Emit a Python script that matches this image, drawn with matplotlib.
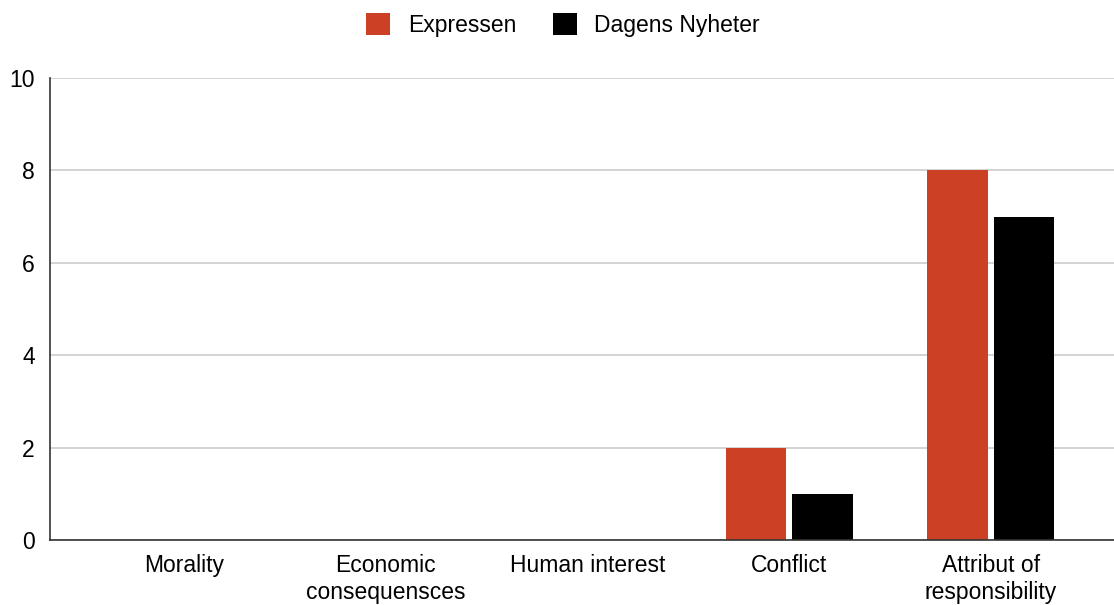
import numpy as np
import matplotlib
matplotlib.use("Agg")
import matplotlib.pyplot as plt

categories = ["Morality", "Economic\nconsequensces", "Human interest", "Conflict",
              "Attribut of\nresponsibility"]
expressen = [0, 0, 0, 2, 8]
dagens_nyheter = [0, 0, 0, 1, 7]
y_ticks = [0, 2, 4, 6, 8, 10]

plt.rcParams["font.family"] = ["Liberation Sans", "DejaVu Sans"]
fs = 16.5

fig = plt.figure(figsize=(11.14, 6.05), dpi=100)
ax = fig.add_axes([50 / 1114, 65 / 605, 1064 / 1114, 462 / 605])

x = np.arange(len(categories))
w = 0.30
off = 0.165
ax.bar(x - off, expressen, w, color="#cc4125", label="Expressen", zorder=3)
ax.bar(x + off, dagens_nyheter, w, color="#000000", label="Dagens Nyheter", zorder=3)

ax.set_xlim(-0.664, 4.61)
ax.set_ylim(0, 10)
ax.set_yticks(y_ticks)
ax.set_xticks(x)
ax.set_xticklabels(categories, fontsize=fs, linespacing=1.25)
ax.tick_params(axis="y", labelsize=fs, length=0, pad=11)
ax.tick_params(axis="x", length=0, pad=10)
ax.grid(axis="y", color="#cccccc", linewidth=1.2, zorder=0)
for s in ["top", "right"]:
    ax.spines[s].set_visible(False)
ax.spines["left"].set_color("#333333")
ax.spines["bottom"].set_color("#333333")
ax.spines["left"].set_linewidth(1.2)
ax.spines["bottom"].set_linewidth(1.2)
ax.spines["bottom"].set_zorder(4)

fig.legend(loc="center", bbox_to_anchor=(563 / 1114, 1 - 25 / 605), ncol=2,
           frameon=False, fontsize=fs, handlelength=1.05, handleheight=1.05,
           columnspacing=1.6, handletextpad=0.75)

fig.savefig("out.png", dpi=100)
